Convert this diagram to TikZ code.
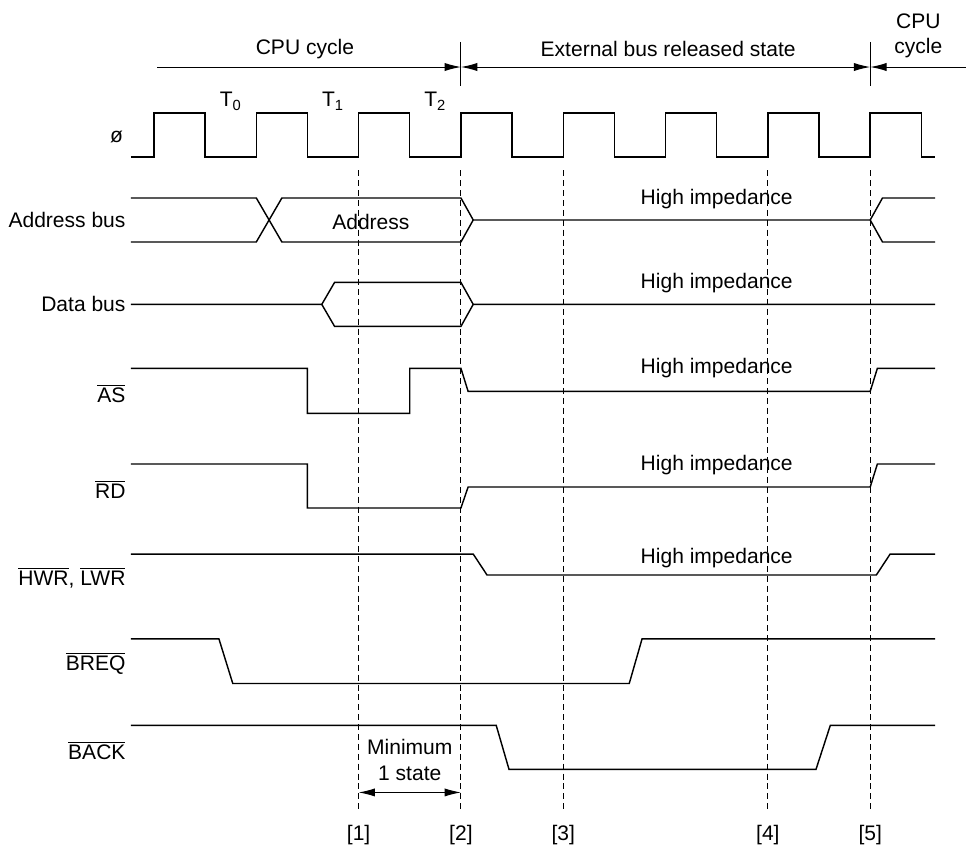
\documentclass[tikz,border=0pt]{standalone}
\usepackage{fontspec}
\setmainfont{Liberation Sans}
\usetikzlibrary{arrows.meta}
\newcommand{\ovl}[1]{$\overline{\mbox{#1}}$}

\begin{document}
\begin{tikzpicture}[>={Latex[length=0.32cm,width=0.16cm]}, font=\fontsize{11.7}{14.4}\selectfont]
    \tikzset{sig/.style={line width=0.8pt},
             guide/.style={line width=0.5pt, dash pattern=on 3.3pt off 2.2pt},
             siglabel/.style={anchor=east, inner sep=0pt},
             dim/.style={line width=0.55pt}}
    \useasboundingbox (-3.01,0) rectangle (15.99,16.62);

    % phase headings
    \node (cpu1) at (2.95,15.66) {CPU cycle};
    \node (ext) at (10.05,15.66) {External bus released state};
    \node[align=center] (cpu2) at (14.94,15.92) {CPU\\cycle};
    \coordinate (start) at (0.06,15.31);
    \coordinate (rel) at (6,15.31);
    \coordinate (ret) at (14,15.31);
    \coordinate (stop) at (15.87,15.31);
    \draw[dim] (6,15.80) -- (6,14.94);
    \draw[dim] (14,15.80) -- (14,14.94);
    \draw[dim,->] (start) -- (rel);
    \draw[dim,<->] (rel) -- (ret);
    \draw[dim,->] (stop) -- (ret);

    % states
    \node (t0) at (1.5,14.64) {T\textsubscript{0}};
    \node (t1) at (3.5,14.64) {T\textsubscript{1}};
    \node (t2) at (5.5,14.64) {T\textsubscript{2}};

    % signal names
    \node[siglabel] (phi) at (-0.6,13.94) {ø};
    \node[siglabel] (addr) at (-0.55,12.32) {Address bus};
    \node[siglabel] (data) at (-0.55,10.67) {Data bus};
    \node[siglabel] (as) at (-0.55,8.93) {\ovl{AS}};
    \node[siglabel] (rd) at (-0.55,7.06) {\ovl{RD}};
    \node[siglabel] (wr) at (-0.55,5.32) {\ovl{HWR}, \ovl{LWR}};
    \node[siglabel] (breq) at (-0.55,3.66) {\ovl{BREQ}};
    \node[siglabel] (back) at (-0.55,1.95) {\ovl{BACK}};

    % clock
    \draw[sig] (-0.45,13.55) \foreach \t in {0,2,...,14} {-- (\t,13.55) -- (\t,14.41) -- (\t+1,14.41) -- (\t+1,13.55)} -- (15.27,13.55);

    % address bus
    \draw[sig] (-0.45,12.75) -- (2,12.75) -- (2.5,11.89) -- (6,11.89) -- (6.24,12.32) -- (14,12.32) -- (14.24,11.89) -- (15.27,11.89);
    \draw[sig] (-0.45,11.89) -- (2,11.89) -- (2.5,12.75) -- (6,12.75) -- (6.24,12.32);
    \draw[sig] (14,12.32) -- (14.24,12.75) -- (15.27,12.75);
    \node (addrval) at (4.24,12.28) {Address};
    \node (hiz1) at (11,12.73) {High impedance};

    % data bus
    \draw[sig] (-0.45,10.67) -- (3.28,10.67) -- (3.53,11.10) -- (6,11.10) -- (6.24,10.67) -- (15.27,10.67);
    \draw[sig] (3.28,10.67) -- (3.53,10.24) -- (6,10.24) -- (6.24,10.67);
    \node (hiz2) at (11,11.08) {High impedance};

    % AS
    \draw[sig] (-0.45,9.42) -- (3,9.42) -- (3,8.54) -- (5,8.54) -- (5,9.42) -- (6,9.42) -- (6.14,8.97) -- (14,8.97) -- (14.14,9.42) -- (15.27,9.42);
    \node (hiz3) at (11,9.42) {High impedance};

    % RD
    \draw[sig] (-0.45,7.55) -- (3,7.55) -- (3,6.69) -- (6,6.69) -- (6.14,7.10) -- (14,7.10) -- (14.14,7.55) -- (15.27,7.55);
    \node (hiz4) at (11,7.53) {High impedance};

    % HWR, LWR
    \draw[sig] (-0.45,5.79) -- (6.24,5.79) -- (6.51,5.38) -- (14.12,5.38) -- (14.39,5.79) -- (15.27,5.79);
    \node (hiz5) at (11,5.72) {High impedance};

    % BREQ
    \draw[sig] (-0.45,4.13) -- (1.27,4.13) -- (1.54,3.26) -- (9.29,3.26) -- (9.54,4.13) -- (15.27,4.13);

    % BACK
    \draw[sig] (-0.45,2.44) -- (6.69,2.44) -- (6.94,1.58) -- (12.94,1.58) -- (13.22,2.44) -- (15.27,2.44);

    % timing points
    \draw[guide] (4,13.29) -- (4,0.78);
    \draw[guide] (6,13.29) -- (6,0.78);
    \draw[guide] (8,13.29) -- (8,0.78);
    \draw[guide] (12,13.29) -- (12,0.78);
    \draw[guide] (14,13.29) -- (14,0.78);
    \node (p1) at (4,0.29) {[1]};
    \node (p2) at (6,0.29) {[2]};
    \node (p3) at (8,0.29) {[3]};
    \node (p4) at (12,0.29) {[4]};
    \node (p5) at (14,0.29) {[5]};

    % minimum one state
    \node[align=center] (minst) at (5,1.76) {Minimum\\1 state};
    \coordinate (mina) at (4,1.13);
    \coordinate (minb) at (6,1.13);
    \draw[dim,<->] (mina) -- (minb);
\end{tikzpicture}
\end{document}
